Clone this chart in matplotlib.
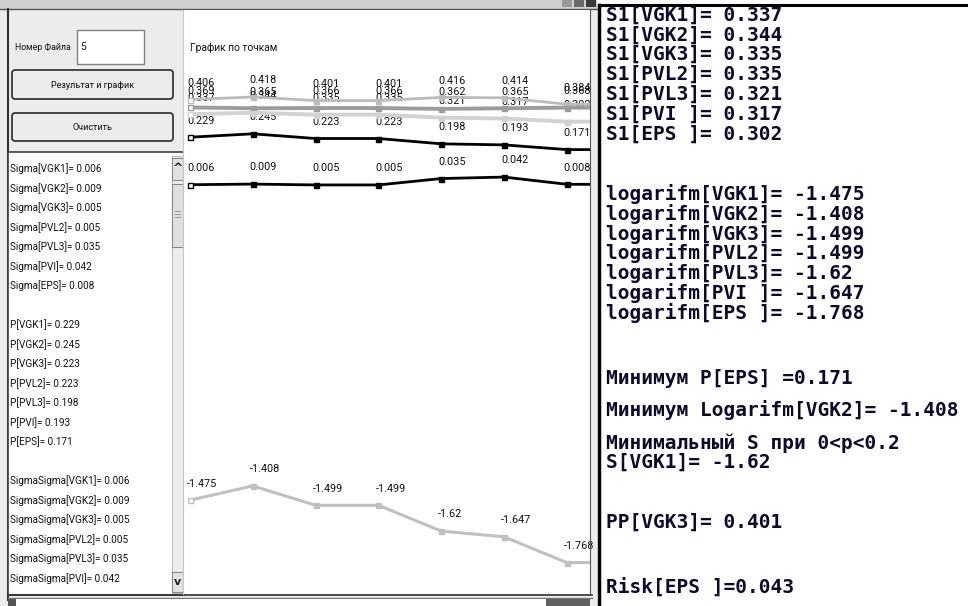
import matplotlib
matplotlib.use("Agg")
import matplotlib.pyplot as plt
from matplotlib.patches import Rectangle, FancyBboxPatch

# ---------------- data ----------------
names = ["VGK1", "VGK2", "VGK3", "PVL2", "PVL3", "PVI", "EPS"]
sigma = [0.006, 0.009, 0.005, 0.005, 0.035, 0.042, 0.008]
p_vals = [0.229, 0.245, 0.223, 0.223, 0.198, 0.193, 0.171]
s1 = [0.337, 0.344, 0.335, 0.335, 0.321, 0.317, 0.302]
s2 = [0.369, 0.365, 0.366, 0.366, 0.362, 0.365, 0.368]
pp = [0.406, 0.418, 0.401, 0.401, 0.416, 0.414, 0.384]
logarifm = [-1.475, -1.408, -1.499, -1.499, -1.62, -1.647, -1.768]
sigma_sigma = [0.006, 0.009, 0.005, 0.005, 0.035, 0.042]
risk_eps = 0.043
file_no = "5"

W, H = 968, 606
fig = plt.figure(figsize=(W / 100, H / 100), dpi=100)
fig.patch.set_facecolor("#ececec")

SANS = ["Roboto", "DejaVu Sans"]
MONO = ["DejaVu Sans Mono"]

# background axes in pixel coordinates
bg = fig.add_axes([0, 0, 1, 1])
bg.set_xlim(0, W)
bg.set_ylim(H, 0)
bg.axis("off")


def rect(x0, y0, x1, y1, fc, ec="none", lw=0, z=1):
    bg.add_patch(Rectangle((x0, y0), x1 - x0, y1 - y0, facecolor=fc,
                           edgecolor=ec, linewidth=lw, zorder=z))


def button(x0, y0, x1, y1, label):
    bg.add_patch(FancyBboxPatch((x0, y0), x1 - x0, y1 - y0,
                                boxstyle="round,pad=0,rounding_size=3",
                                facecolor="#ebebeb", edgecolor="#2a2a2a",
                                linewidth=1.2, zorder=2))
    bg.text((x0 + x1) / 2, (y0 + y1) / 2 + 1, label, ha="center", va="center",
            fontsize=6.5, family=SANS, color="#111111", zorder=3)


# window frame
rect(0, 0, 598, 9, "#cfcfcf", z=1)
bg.plot([0, 598], [9, 9], color="#555555", lw=1, zorder=2)
rect(562, 0, 572, 7, "#9a9a9a", z=2)
rect(574, 0, 584, 7, "#6a6a6a", z=2)
rect(586, 0, 596, 7, "#3a3a3a", z=2)
bg.plot([8, 8], [9, 600], color="#333333", lw=1.5, zorder=2)

# left controls
bg.text(15, 47, "Номер Файла", ha="left", va="center",
        fontsize=6.3, family=SANS, color="#111111", zorder=3)
rect(77, 30, 144, 64, "white", ec="#808080", lw=1, z=2)
bg.text(80, 47, file_no, ha="left", va="center",
        fontsize=7.2, family=SANS, color="#111111", zorder=3)
button(12, 70, 173, 99, "Результат и график")
button(12, 113, 173, 141, "Очистить")

# listbox
rect(8, 152, 184, 595, "white", ec="#404040", lw=1.2, z=2)
rect(172, 156, 183, 593, "#ededed", ec="#b0b0b0", lw=0.6, z=3)
rect(172, 158, 183, 180, "#e2e2e2", ec="#8a8a8a", lw=0.8, z=4)
bg.text(177.5, 169, "^", ha="center", va="center", fontsize=9,
        fontweight="bold", color="#222222", zorder=5)
rect(172, 184, 183, 247, "#e0e0e0", ec="#8a8a8a", lw=0.8, z=4)
for yy in (211, 214, 217):
    bg.plot([175, 180], [yy, yy], color="#888888", lw=0.6, zorder=5)
rect(172, 572, 183, 592, "#e2e2e2", ec="#8a8a8a", lw=0.8, z=4)
bg.text(177.5, 582, "v", ha="center", va="center", fontsize=8,
        fontweight="bold", color="#222222", zorder=5)

lines = [f"Sigma[{n}]= {v}" for n, v in zip(names, sigma)]
lines += [""]
lines += [f"P[{n}]= {v}" for n, v in zip(names, p_vals)]
lines += [""]
lines += [f"SigmaSigma[{n}]= {v}" for n, v in zip(names, sigma_sigma)]
for k, s in enumerate(lines):
    y = 169 + 19.5 * k
    if s:
        bg.text(10, y, s, ha="left", va="center", fontsize=7.2, family=SANS,
                color="#111111", zorder=3)

# bottom strip
bg.plot([8, 592], [595, 595], color="#333333", lw=1.2, zorder=6)
bg.plot([8, 592], [598, 598], color="#777777", lw=1, zorder=6)
rect(8, 599, 16, 606, "#555555", z=6)
rect(16, 599, 546, 606, "white", z=6)
rect(546, 599, 590, 606, "#606060", z=6)

# ---------------- chart ----------------
x_left_px, x_right_px = 183, 590
y_top_px, y_bot_px = 10, 594
x0_px, dx_px = 190, 62.8
y0_px, dy_px = 186, 213

ax = fig.add_axes([x_left_px / W, 1 - y_bot_px / H,
                   (x_right_px - x_left_px) / W, (y_bot_px - y_top_px) / H])
ax.set_facecolor("white")
xl = ((x_left_px - x0_px) / dx_px, (x_right_px - x0_px) / dx_px)
ax.set_xlim(*xl)
ax.set_ylim(-(y_bot_px - y0_px) / dy_px, (y0_px - y_top_px) / dy_px)
ax.set_xticks([])
ax.set_yticks([])
for side, sp in ax.spines.items():
    sp.set_visible(False)
ax.spines["right"].set_visible(True)
ax.spines["right"].set_color("#555555")
ax.spines["left"].set_visible(True)
ax.spines["left"].set_color("#c8c8c8")

ax.text(0.018, 0.935, "График по точкам", transform=ax.transAxes,
        ha="left", va="center", fontsize=7.4, family=SANS, color="#111111")

xs = list(range(len(names)))
series = [
    (pp, "#bcbcbc", 2.0),
    (s2, "#9c9c9c", 2.8),
    (s1, "#d2d2d2", 2.8),
    (p_vals, "#000000", 2.0),
    (sigma, "#000000", 2.0),
    (logarifm, "#c0c0c0", 2.2),
]
for vals, col, lw in series:
    for i, v in zip(xs, vals):
        ax.annotate(f"{v}", (i, v), xytext=(-2.2, 12), textcoords="offset points",
                    ha="left", va="center", fontsize=7.8, family=SANS,
                    color="#111111", zorder=2)
    ax.plot(xs + [xl[1]], list(vals) + [vals[-1]], color=col, lw=lw, zorder=3)
    ax.plot(xs[1:], vals[1:], ls="none", marker="s", ms=3.6, color=col, zorder=4)
    ax.plot(xs[:1], vals[:1], ls="none", marker="s", ms=3.6, mfc="white",
            mec=col, mew=1, zorder=4)

# ---------------- right panel ----------------
rect(597, 0, W, H, "white", z=1)
bg.plot([599, 599], [5, H], color="#000000", lw=2.5, zorder=2)
bg.plot([599, W], [5, 5], color="#000000", lw=2.2, zorder=2)


def pad(n):
    return n.ljust(4)


rtxt = []
for k, (n, v) in enumerate(zip(names, s1)):
    rtxt.append((15 + 19.8 * k, f"S1[{pad(n)}]= {v:.3f}"))
for k, (n, v) in enumerate(zip(names, logarifm)):
    rtxt.append((194 + 19.8 * k, f"logarifm[{pad(n)}]= {v}"))
imin = p_vals.index(min(p_vals))
rtxt.append((378, f"Минимум P[{names[imin]}] ={p_vals[imin]}"))
imax = logarifm.index(max(logarifm))
rtxt.append((410, f"Минимум Logarifm[{pad(names[imax])}]= {logarifm[imax]}"))
rtxt.append((443, "Минимальный S при 0<p<0.2"))
rtxt.append((462, f"S[{pad(names[0])}]= {logarifm[4]}"))
rtxt.append((522, f"PP[{pad(names[2])}]= {pp[2]}"))
rtxt.append((587, f"Risk[{pad(names[6])}]={risk_eps}"))
for y, s in rtxt:
    bg.text(606, y, s, ha="left", va="center", fontsize=14, family=MONO,
            fontweight="bold", color="#0c0c2a", zorder=3)

fig.savefig("out.png", dpi=100, facecolor=fig.get_facecolor())
